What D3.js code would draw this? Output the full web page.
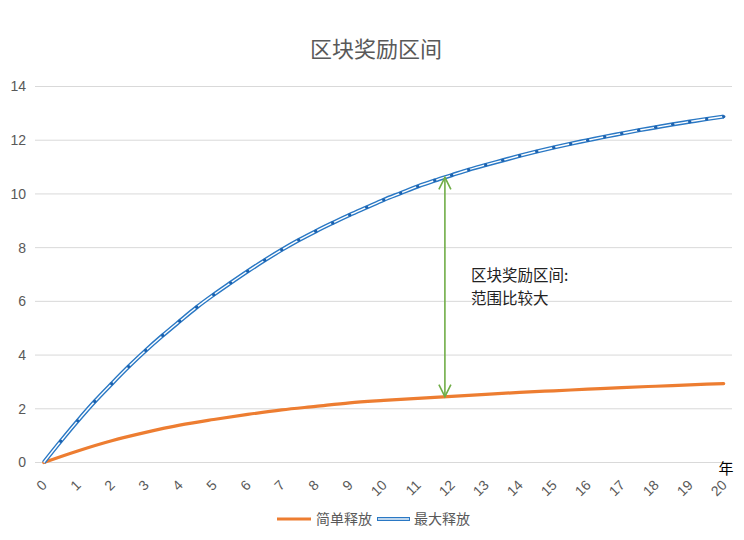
<!DOCTYPE html>
<html>
<head>
<meta charset="utf-8">
<script src="https://cdn.jsdelivr.net/npm/d3@7"></script>
<style>
  html, body { margin: 0; padding: 0; background: #fff; }
  svg { display: block; font-family: "Noto Sans CJK SC", "Noto Sans", sans-serif; }
</style>
</head>
<body>
<svg id="chart" width="744" height="540"></svg>
<script>
// ---------- data ----------
const title = "区块奖励区间";
const xTickLabels = d3.range(0, 21);              // 0..20 years
const yTickLabels = [0, 2, 4, 6, 8, 10, 12, 14];
const xUnit = "年";

const seriesNames = ["简单释放", "最大释放"];

// 简单释放 (orange), one value per year, 0..20
const simpleYears = [0,1,2,3,4,5,6,7,8,9,10,11,12,13,14,15,16,17,18,19,20];
const simpleValues = [0, 0.43, 0.81, 1.12, 1.39, 1.60, 1.79, 1.96, 2.09, 2.22, 2.31,
                      2.39, 2.46, 2.54, 2.61, 2.67, 2.73, 2.79, 2.84, 2.89, 2.94];

// 最大释放 (blue), one value per half year, 0..20
const maxYears = [0,0.5,1,1.5,2,2.5,3,3.5,4,4.5,5,5.5,6,6.5,7,7.5,8,8.5,9,9.5,10,
                  10.5,11,11.5,12,12.5,13,13.5,14,14.5,15,15.5,16,16.5,17,17.5,18,18.5,19,19.5,20];
const maxValues = [0, 0.79, 1.55, 2.27, 2.93, 3.57, 4.17, 4.73, 5.26, 5.78, 6.25, 6.69,
                   7.12, 7.53, 7.92, 8.28, 8.61, 8.92, 9.22, 9.50, 9.78, 10.03, 10.28,
                   10.50, 10.70, 10.90, 11.08, 11.25, 11.42, 11.58, 11.73, 11.87, 12.00,
                   12.13, 12.25, 12.37, 12.48, 12.59, 12.69, 12.79, 12.88];

// annotation (range arrow between the two series)
const arrowYear = 11.8;
const arrowTop = 10.62;
const arrowBottom = 2.45;
const noteLines = ["区块奖励区间:", "范围比较大"];

// ---------- drawing ----------
const svg = d3.select("#chart");
const x = d3.scaleLinear().domain([0, 20]).range([43.7, 723.7]);
const y = d3.scaleLinear().domain([0, 14]).range([462.5, 86.5]);

const grey = "#595959";
const orange = "#ed7d31";
const blue = "#2a78c4";
const green = "#70ad47";

// title
svg.append("text")
  .attr("x", 376).attr("y", 57)
  .attr("text-anchor", "middle")
  .attr("font-size", 22)
  .attr("fill", grey)
  .text(title);

// gridlines
svg.append("g").selectAll("line")
  .data(yTickLabels)
  .join("line")
  .attr("x1", 35).attr("x2", 732)
  .attr("y1", d => y(d)).attr("y2", d => y(d))
  .attr("stroke", "#d9d9d9").attr("stroke-width", 1);

// y axis labels
const yAxis = d3.axisLeft(y).tickValues(yTickLabels).tickSize(0).tickPadding(0);
const gy = svg.append("g").attr("transform", "translate(26,0)").call(yAxis);
gy.select(".domain").remove();
gy.selectAll("text").attr("font-size", 14).attr("fill", grey)
  .style("font-family", "'Liberation Sans', Arial, sans-serif");

// x axis labels (rotated)
const xAxis = d3.axisBottom(x).tickValues(xTickLabels).tickSize(0).tickFormat(d3.format("d"));
const gx = svg.append("g").attr("transform", `translate(0,${y(0)})`).call(xAxis);
gx.select(".domain").remove();
gx.selectAll("text")
  .attr("font-size", 14).attr("fill", grey)
  .style("font-family", "'Liberation Sans', Arial, sans-serif")
  .attr("text-anchor", "end")
  .attr("x", 0).attr("y", 0).attr("dy", "0.35em")
  .attr("transform", "translate(0,20) rotate(-45)");

// unit label
svg.append("text")
  .attr("x", 726).attr("y", 474)
  .attr("text-anchor", "middle")
  .attr("font-size", 15).attr("fill", "#000")
  .text(xUnit);

// lines
const line = d3.line().x(d => x(d[0])).y(d => y(d[1])).curve(d3.curveMonotoneX);
const simpleData = simpleYears.map((t, i) => [t, simpleValues[i]]);
const maxData = maxYears.map((t, i) => [t, maxValues[i]]);

svg.append("path").datum(simpleData)
  .attr("d", line).attr("fill", "none")
  .attr("stroke", orange).attr("stroke-width", 3.2).attr("stroke-linecap", "round");

// double blue line
svg.append("path").datum(maxData)
  .attr("d", line).attr("fill", "none")
  .attr("stroke", blue).attr("stroke-width", 4.2);
svg.append("path").datum(maxData)
  .attr("d", line).attr("fill", "none")
  .attr("stroke", "#fff").attr("stroke-width", 1.4);
svg.append("g").selectAll("circle")
  .data(maxData.slice(1))
  .join("circle")
  .attr("cx", d => x(d[0])).attr("cy", d => y(d[1]))
  .attr("r", 1.7).attr("fill", "#1d63b0");

// annotation arrow
const ax = x(arrowYear);
const yt = y(arrowTop), yb = y(arrowBottom);
const ag = svg.append("g").attr("stroke", green).attr("stroke-width", 1.6).attr("fill", "none");
ag.append("line").attr("x1", ax).attr("x2", ax).attr("y1", yt).attr("y2", yb);
ag.append("polyline").attr("points", `${ax-6},${yt+12} ${ax},${yt} ${ax+6},${yt+12}`);
ag.append("polyline").attr("points", `${ax-6},${yb-12} ${ax},${yb} ${ax+6},${yb-12}`);

svg.append("g").selectAll("text")
  .data(noteLines)
  .join("text")
  .attr("x", 471).attr("y", (d, i) => 281 + i * 23)
  .attr("font-size", 15.5).attr("fill", "#222")
  .text(d => d);

// legend
const lg = svg.append("g");
lg.append("line").attr("x1", 277).attr("x2", 311).attr("y1", 519).attr("y2", 519)
  .attr("stroke", orange).attr("stroke-width", 3.2);
lg.append("text").attr("x", 316).attr("y", 524).attr("font-size", 14).attr("fill", grey).text(seriesNames[0]);
lg.append("line").attr("x1", 377).attr("x2", 410).attr("y1", 519).attr("y2", 519)
  .attr("stroke", blue).attr("stroke-width", 4.2);
lg.append("line").attr("x1", 378).attr("x2", 409).attr("y1", 519).attr("y2", 519)
  .attr("stroke", "#fff").attr("stroke-width", 1.4);
lg.append("text").attr("x", 414).attr("y", 524).attr("font-size", 14).attr("fill", grey).text(seriesNames[1]);
</script>
</body>
</html>
